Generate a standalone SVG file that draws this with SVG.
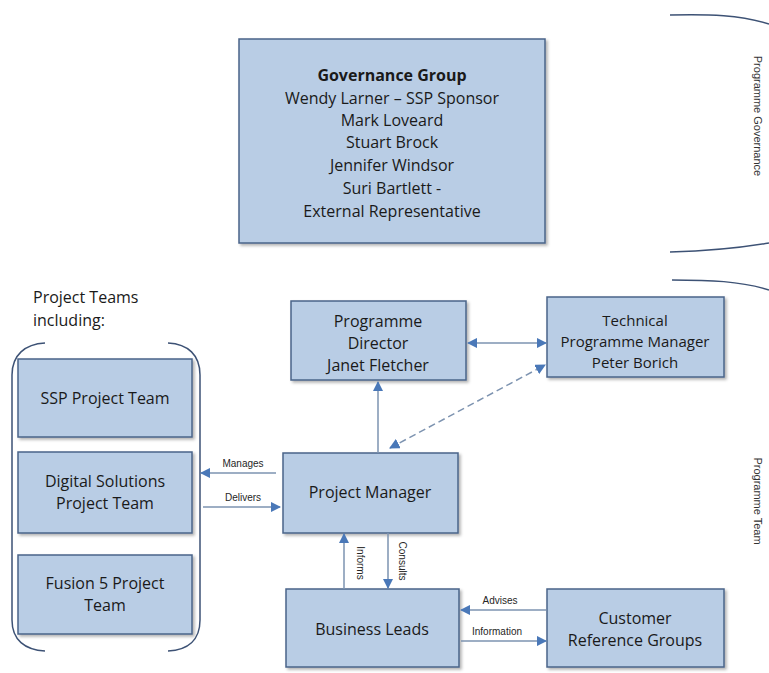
<svg xmlns="http://www.w3.org/2000/svg" width="769" height="673" viewBox="0 0 769 673">
<defs>
<style>
.box{fill:#b9cde5;stroke:#4a6489;stroke-width:1.5}
.t{font-family:"Open Sans","Noto Sans",sans-serif;font-size:16px;fill:#1a1a1a;text-anchor:middle}
.b{font-weight:bold}
.s{font-family:"Liberation Sans",sans-serif;font-size:10px;fill:#262626;text-anchor:middle}
.side{font-family:"Liberation Sans",sans-serif;font-size:11px;fill:#333;text-anchor:middle}
.ln{stroke:#7d93b0;stroke-width:1.5;fill:none}
.br{stroke:#3d5275;stroke-width:1.5;fill:none}
</style>
<marker id="ah" viewBox="0 0 10 10" refX="9" refY="5" markerWidth="7" markerHeight="7" orient="auto-start-reverse">
<path d="M0,0 L10,5 L0,10 z" fill="#4a78b8"/>
</marker>
<filter id="sh" x="-5%" y="-5%" width="115%" height="115%">
<feDropShadow dx="2" dy="2" stdDeviation="1.5" flood-color="#000" flood-opacity="0.3"/>
</filter>
</defs>
<rect width="769" height="673" fill="#fff"/>

<g id="brackets">
<path class="br" d="M670,15 C710,14 740,15 769,24"/>
<path class="br" d="M670,252 C710,251 740,248 769,243"/>
<path class="br" d="M672,280 C710,280 740,281 769,290"/>
<path class="br" d="M45,343 C25,344 12,355 12,375 L12,620 C12,640 25,650 45,651"/>
<path class="br" d="M168,343 C188,344 200,355 200,375 L200,620 C200,640 188,650 168,651"/>
<text class="side" transform="translate(754,116) rotate(90)">Programme Governance</text>
<text class="side" transform="translate(754,501) rotate(90)">Programme Team</text>
<text x="33" y="303" font-family="Open Sans, sans-serif" font-size="16" fill="#1a1a1a">Project Teams</text>
<text x="33" y="326" font-family="Open Sans, sans-serif" font-size="16" fill="#1a1a1a">including:</text>
</g>

<g id="governance">
<rect class="box" x="239" y="39" width="306" height="204" filter="url(#sh)"/>
<text class="t b" x="392" y="81">Governance Group</text>
<text class="t" x="392" y="104">Wendy Larner – SSP Sponsor</text>
<text class="t" x="392" y="126">Mark Loveard</text>
<text class="t" x="392" y="148">Stuart Brock</text>
<text class="t" x="392" y="171">Jennifer Windsor</text>
<text class="t" x="392" y="194">Suri Bartlett -</text>
<text class="t" x="392" y="217">External  Representative</text>
</g>

<g id="ssp">
<rect class="box" x="18" y="359" width="174" height="78" filter="url(#sh)"/>
<text class="t" x="105" y="404">SSP Project Team</text>
</g>
<g id="digital">
<rect class="box" x="18" y="452" width="174" height="81" filter="url(#sh)"/>
<text class="t" x="105" y="487">Digital Solutions</text>
<text class="t" x="105" y="509">Project Team</text>
</g>
<g id="fusion">
<rect class="box" x="18" y="555" width="174" height="79" filter="url(#sh)"/>
<text class="t" x="105" y="589">Fusion 5 Project</text>
<text class="t" x="105" y="611">Team</text>
</g>
<g id="director">
<rect class="box" x="291" y="301" width="175" height="79" filter="url(#sh)"/>
<text class="t" x="378" y="327">Programme</text>
<text class="t" x="378" y="349">Director</text>
<text class="t" x="378" y="371">Janet Fletcher</text>
</g>
<g id="technical">
<rect class="box" x="547" y="297" width="177" height="80" filter="url(#sh)"/>
<text class="t" x="635" y="326" style="font-size:15px">Technical</text>
<text class="t" x="635" y="347" style="font-size:15px">Programme Manager</text>
<text class="t" x="635" y="368" style="font-size:15px">Peter Borich</text>
</g>
<g id="pm">
<rect class="box" x="283" y="453" width="175" height="80" filter="url(#sh)"/>
<text class="t" x="370" y="498">Project Manager</text>
</g>
<g id="business">
<rect class="box" x="286" y="589" width="173" height="78" filter="url(#sh)"/>
<text class="t" x="372" y="635">Business Leads</text>
</g>
<g id="customer">
<rect class="box" x="547" y="589" width="177" height="78" filter="url(#sh)"/>
<text class="t" x="635" y="624">Customer</text>
<text class="t" x="635" y="646">Reference Groups</text>
</g>

<g id="connectors">
<line class="ln" x1="276" y1="473" x2="201" y2="473" marker-end="url(#ah)"/>
<text class="s" x="243" y="467">Manages</text>
<line class="ln" x1="203" y1="507" x2="280" y2="507" marker-end="url(#ah)"/>
<text class="s" x="243" y="501">Delivers</text>
<line class="ln" x1="378" y1="453" x2="378" y2="382" marker-end="url(#ah)"/>
<line class="ln" x1="468" y1="343" x2="546" y2="343" marker-start="url(#ah)" marker-end="url(#ah)"/>
<line class="ln" x1="390" y1="448" x2="545" y2="365" stroke-dasharray="7,4" marker-start="url(#ah)" marker-end="url(#ah)"/>
<line class="ln" x1="344" y1="589" x2="344" y2="534" marker-end="url(#ah)"/>
<text class="s" transform="translate(357,563) rotate(90)">Informs</text>
<line class="ln" x1="388" y1="533" x2="388" y2="588" marker-end="url(#ah)"/>
<text class="s" transform="translate(399,561) rotate(90)">Consults</text>
<line class="ln" x1="546" y1="610" x2="461" y2="610" marker-end="url(#ah)"/>
<text class="s" x="500" y="604">Advises</text>
<line class="ln" x1="461" y1="641" x2="546" y2="641" marker-end="url(#ah)"/>
<text class="s" x="497" y="635">Information</text>
</g>
</svg>
